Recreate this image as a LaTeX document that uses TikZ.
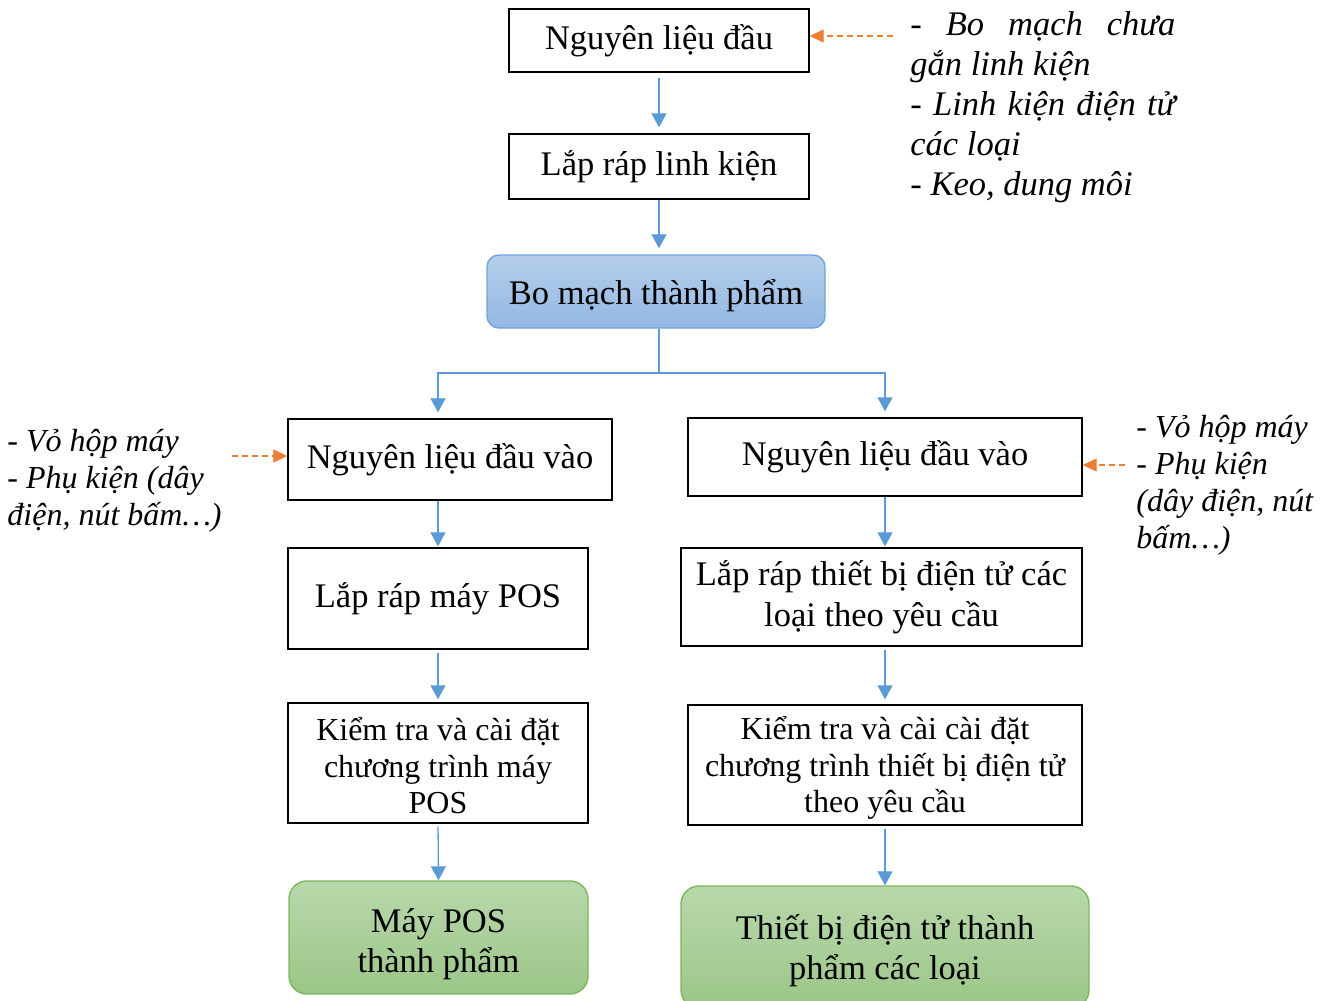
\documentclass[tikz,border=0pt]{standalone}
\usepackage{fontspec}
\setmainfont{Liberation Serif}
\usetikzlibrary{arrows.meta,calc}
\definecolor{flowblue}{HTML}{5B9BD5}
\definecolor{flowora}{HTML}{ED7D31}
\definecolor{boardtop}{HTML}{B5CEEA}
\definecolor{boardbot}{HTML}{93B8E3}
\definecolor{boardline}{HTML}{6FA3DA}
\definecolor{prodtop}{HTML}{B8D8AB}
\definecolor{prodbot}{HTML}{9CC688}
\definecolor{prodline}{HTML}{7DB65A}

\begin{document}
\begin{tikzpicture}[x=0.5pt,y=-0.5pt,
  every node/.style={font=\fontsize{17.25}{18.5}\selectfont},
  stepbox/.style={draw=black, line width=0.7pt, inner sep=2pt, align=center},
  board/.style={draw=boardline, line width=0.7pt, rounded corners=6pt,
    top color=boardtop, bottom color=boardbot, align=center, inner sep=2pt},
  product/.style={draw=prodline, line width=0.7pt, rounded corners=9pt,
    top color=prodtop, bottom color=prodbot, align=center, inner sep=2pt},
  flow/.style={draw=flowblue, line width=0.65pt, -{Triangle[width=7.5pt,length=7pt]}},
  feed/.style={draw=flowora, line width=0.65pt, dash pattern=on 3pt off 2pt,
    -{Triangle[width=6.5pt,length=7pt]}},
  note/.style={anchor=north west, inner sep=0pt, align=left}
]
\useasboundingbox (0,0) rectangle (1325,1000);
\clip (0,0) rectangle (1325,1000);

% main chain
\node[stepbox, minimum width=150pt, minimum height=31.5pt] (n1) at (659,40.5) {Nguyên liệu đầu};
\node[stepbox, minimum width=150pt, minimum height=32.5pt] (n2) at (659,166.5) {Lắp ráp linh kiện};
\node[board, minimum width=169pt, minimum height=36.5pt, text height=19pt, text depth=6pt]
  (n3) at (656,291.5) {Bo mạch thành phẩm};

% left branch: POS machines
\node[stepbox, minimum width=162pt, minimum height=40.5pt] (L1) at (450,459.5) {Nguyên liệu đầu vào};
\node[stepbox, minimum width=150pt, minimum height=50.5pt] (L2) at (438,598.5) {Lắp ráp máy POS};
\node[stepbox, minimum width=150pt, minimum height=60pt,
  font=\fontsize{16}{18.25}\selectfont] (L3) at (438,763)
  {\rule{0pt}{16pt}Kiểm tra và cài đặt\\chương trình máy\\POS\rule[-2pt]{0pt}{2pt}};
\node[product, minimum width=149.5pt, minimum height=56.5pt,
  font=\fontsize{17.25}{20}\selectfont] (L4) at (438.5,937.5)
  {\rule{0pt}{19.5pt}Máy POS\\thành phẩm\rule[-5pt]{0pt}{5pt}};

% right branch: electronic devices
\node[stepbox, minimum width=197pt, minimum height=39pt] (R1) at (885,457) {Nguyên liệu đầu vào};
\node[stepbox, minimum width=200.5pt, minimum height=49pt,
  font=\fontsize{17.25}{20.5}\selectfont] (R2) at (881.5,597)
  {Lắp ráp thiết bị điện tử các\\loại theo yêu cầu};
\node[stepbox, minimum width=197pt, minimum height=60pt,
  font=\fontsize{16}{18.25}\selectfont] (R3) at (885,765)
  {\rule{0pt}{15pt}Kiểm tra và cài cài đặt\\chương trình thiết bị điện tử\\theo yêu cầu\rule[-4pt]{0pt}{4pt}};
\node[product, minimum width=204pt, minimum height=61pt,
  font=\fontsize{17.25}{20}\selectfont] (R4) at (885,947)
  {\rule{0pt}{17.5pt}Thiết bị điện tử thành\\phẩm các loại\rule[-5.5pt]{0pt}{5.5pt}};

% side notes
\node[note, font=\itshape\fontsize{17.25}{20}\selectfont] (a1) at (910,3)
  {\rule{0pt}{16pt}\makebox[132.5pt][s]{- Bo mạch chưa}\\
   gắn linh kiện\\
   \makebox[132.5pt][s]{- Linh kiện điện tử}\\
   các loại\\
   - Keo, dung môi};
\node[note, font=\itshape\fontsize{16}{18.5}\selectfont] (a2) at (7,419)
  {\rule{0pt}{16pt}- Vỏ hộp máy\\ - Phụ kiện (dây\\ điện, nút bấm…)};
\node[note, font=\itshape\fontsize{16}{18.5}\selectfont] (a3) at (1136,405)
  {\rule{0pt}{16pt}- Vỏ hộp máy\\ - Phụ kiện\\ (dây điện, nút\\ bấm…)};

% flow arrows
\draw[flow, shorten <=2.5pt, shorten >=3pt] (n1.south) -- (n2.north);
\draw[flow, shorten >=3pt] (n2.south) -- (n2.south |- n3.north);
\coordinate (split) at (659,373);
\draw[flowblue, line width=0.65pt] (n3.south -| split) -- (split);
\draw[flow, shorten >=3pt] (split) -| (L2.north |- L1.north);
\draw[flow, shorten >=3pt] (split) -| (R1.north);
\draw[flow, shorten >=0.5pt] (L2.north |- L1.south) -- (L2.north);
\draw[flow, shorten >=0.5pt] (R1.south) -- (R1.south |- R2.north);
\draw[flow, shorten <=1.5pt, shorten >=1.5pt] (L2.south) -- (L3.north);
\draw[flow, shorten <=1.5pt, shorten >=2.5pt] (R3.north |- R2.south) -- (R3.north);
\draw[flow, shorten <=1.5pt] (L3.south) -- (L4.north);
\draw[flow, shorten <=1.5pt] (R3.south) -- (R4.north);

% material inputs
\coordinate (f1) at (893,36);
\draw[feed] (f1) -- (n1.east |- f1);
\coordinate (f2) at (232,456);
\draw[feed] (f2) -- (L1.west |- f2);
\coordinate (f3) at (1125,465);
\draw[feed] (f3) -- (R1.east |- f3);
\end{tikzpicture}
\end{document}
